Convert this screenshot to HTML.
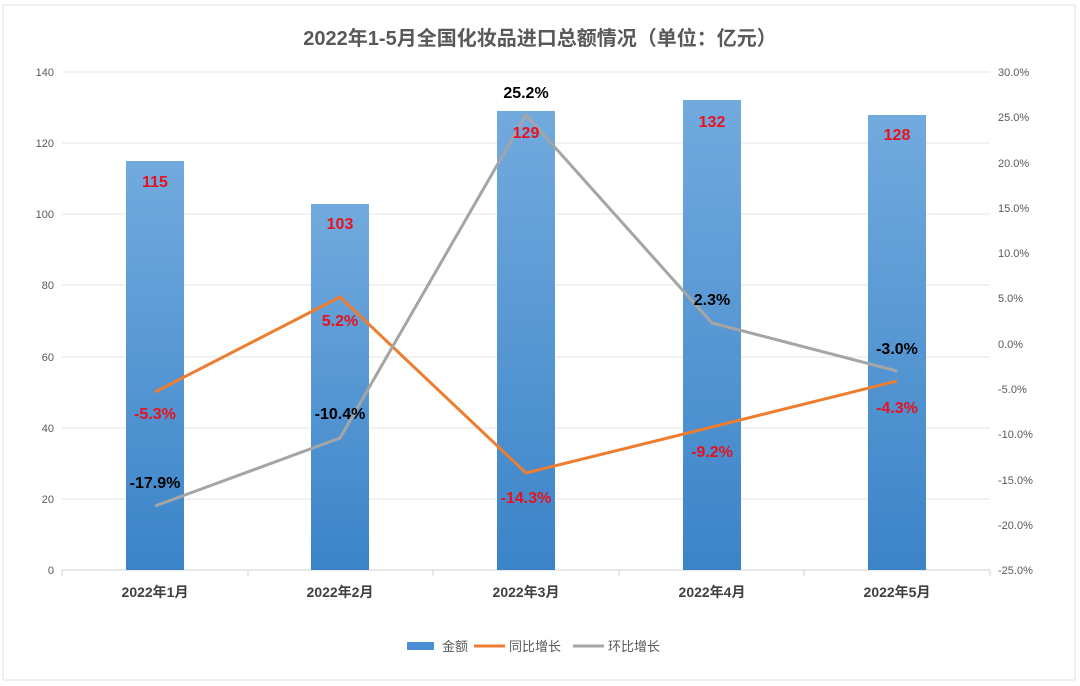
<!DOCTYPE html>
<html><head><meta charset="utf-8"><style>
body{margin:0;background:#fff}
svg{display:block}
text{font-family:"Liberation Sans","Noto Sans CJK SC",sans-serif}
</style></head><body>
<svg width="1080" height="686" viewBox="0 0 1080 686">
<defs><linearGradient id="g" x1="0" y1="0" x2="0" y2="1"><stop offset="0" stop-color="#72aade"/><stop offset="1" stop-color="#3b84c8"/></linearGradient></defs>
<rect x="3" y="5" width="1072" height="675" fill="#fff" stroke="#e2e2e2"/>
<text x="540" y="45" text-anchor="middle" font-size="20" font-weight="bold" fill="#595959">2022年1-5月全国化妆品进口总额情况（单位：亿元）</text>
<g stroke="#e6e6e6" stroke-width="1">
<line x1="62" x2="990" y1="72" y2="72"/><line x1="62" x2="990" y1="143" y2="143"/><line x1="62" x2="990" y1="214" y2="214"/><line x1="62" x2="990" y1="285" y2="285"/><line x1="62" x2="990" y1="357" y2="357"/><line x1="62" x2="990" y1="428" y2="428"/><line x1="62" x2="990" y1="499" y2="499"/>
</g>
<line x1="62" x2="990" y1="570" y2="570" stroke="#d0d0d0"/>
<g stroke="#d0d0d0"><line x1="62" x2="62" y1="570" y2="576"/><line x1="248" x2="248" y1="570" y2="576"/><line x1="433" x2="433" y1="570" y2="576"/><line x1="619" x2="619" y1="570" y2="576"/><line x1="804" x2="804" y1="570" y2="576"/><line x1="990" x2="990" y1="570" y2="576"/></g>
<g font-size="11" fill="#595959" text-anchor="end">
<text x="54" y="76">140</text><text x="54" y="147">120</text><text x="54" y="218">100</text><text x="54" y="289">80</text><text x="54" y="361">60</text><text x="54" y="432">40</text><text x="54" y="503">20</text><text x="54" y="574">0</text>
</g>
<g font-size="11" fill="#595959">
<text x="998" y="76">30.0%</text><text x="998" y="121">25.0%</text><text x="998" y="167">20.0%</text><text x="998" y="212">15.0%</text><text x="998" y="257">10.0%</text><text x="998" y="302">5.0%</text><text x="998" y="348">0.0%</text><text x="998" y="393">-5.0%</text><text x="998" y="438">-10.0%</text><text x="998" y="484">-15.0%</text><text x="998" y="529">-20.0%</text><text x="998" y="574">-25.0%</text>
</g>
<g fill="url(#g)">
<rect x="126" y="161" width="58" height="409"/><rect x="311" y="204" width="58" height="366"/><rect x="497" y="111" width="58" height="459"/><rect x="683" y="100" width="58" height="470"/><rect x="868" y="115" width="58" height="455"/>
</g>
<polyline points="155,392 340,297 526,473 712,427 897,381" fill="none" stroke="#ed7d31" stroke-width="3"/>
<polyline points="155,506 340,438 526,115 712,323 897,371" fill="none" stroke="#a5a5a5" stroke-width="3"/>
<g font-size="16" font-weight="bold" fill="#e8111d" text-anchor="middle">
<text x="155" y="187">115</text><text x="340" y="229">103</text><text x="526" y="138">129</text><text x="712" y="127">132</text><text x="897" y="140">128</text>
<text x="155" y="419">-5.3%</text><text x="340" y="326">5.2%</text><text x="526" y="503">-14.3%</text><text x="712" y="457">-9.2%</text><text x="897" y="413">-4.3%</text>
</g>
<g font-size="16" font-weight="bold" fill="#000" text-anchor="middle">
<text x="155" y="488">-17.9%</text><text x="340" y="419">-10.4%</text><text x="526" y="98">25.2%</text><text x="712" y="305">2.3%</text><text x="897" y="354">-3.0%</text>
</g>
<g font-size="14" font-weight="bold" fill="#404040" text-anchor="middle">
<text x="155" y="597">2022年1月</text><text x="340" y="597">2022年2月</text><text x="526" y="597">2022年3月</text><text x="712" y="597">2022年4月</text><text x="897" y="597">2022年5月</text>
</g>
<rect x="407" y="642" width="27" height="8" fill="#4a90d2"/>
<text x="442" y="651" font-size="13" fill="#595959">金额</text>
<line x1="474" x2="505" y1="646" y2="646" stroke="#ed7d31" stroke-width="3"/>
<text x="509" y="651" font-size="13" fill="#595959">同比增长</text>
<line x1="573" x2="604" y1="646" y2="646" stroke="#a5a5a5" stroke-width="3"/>
<text x="608" y="651" font-size="13" fill="#595959">环比增长</text>
</svg>
</body></html>
